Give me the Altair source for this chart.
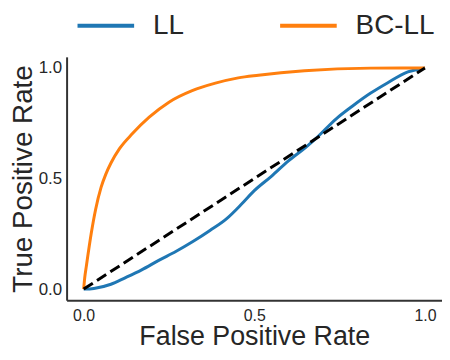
import altair as alt
import pandas as pd

# ROC curve readings
fpr_ll = [0, 0.03, 0.08, 0.12, 0.17, 0.22, 0.27, 0.32, 0.37, 0.42, 0.46, 0.50, 0.55, 0.60, 0.65, 0.68, 0.74, 0.79, 0.84, 0.89, 0.95, 1.0]
tpr_ll = [0, 0.003, 0.022, 0.05, 0.087, 0.13, 0.17, 0.215, 0.265, 0.32, 0.38, 0.445, 0.51, 0.58, 0.64, 0.68, 0.77, 0.83, 0.885, 0.932, 0.982, 1.0]

fpr_bc = [0, 0.003, 0.008, 0.022, 0.035, 0.051, 0.065, 0.08, 0.105, 0.143, 0.192, 0.25, 0.318, 0.386, 0.453, 0.512, 0.647, 0.841, 1.0]
tpr_bc = [0, 0.05, 0.105, 0.25, 0.36, 0.46, 0.52, 0.57, 0.635, 0.703, 0.777, 0.845, 0.897, 0.931, 0.955, 0.967, 0.987, 0.999, 1.0]

diag_x = [0, 1]
diag_y = [0, 1]

series_names = ["LL", "BC-LL"]
series_colors = ["#1f77b4", "#ff7f0e"]

rows = []
for i, (x, y) in enumerate(zip(fpr_ll, tpr_ll)):
    rows.append({"model": "LL", "fpr": x, "tpr": y, "order": i})
for i, (x, y) in enumerate(zip(fpr_bc, tpr_bc)):
    rows.append({"model": "BC-LL", "fpr": x, "tpr": y, "order": i})
df = pd.DataFrame(rows)
diag = pd.DataFrame({"fpr": diag_x, "tpr": diag_y})

FONT = "Liberation Sans"
TXT = "#262626"

xscale = alt.Scale(domain=[-0.05, 1.05], nice=False, zero=False)
yscale = alt.Scale(domain=[-0.05, 1.05], nice=False, zero=False)

xaxis = alt.Axis(
    title="False Positive Rate", values=[0, 0.5, 1.0], format=".1f",
    ticks=False, grid=False, labelFontSize=16, titleFontSize=27,
    labelPadding=7, titlePadding=1, labelColor=TXT, titleColor=TXT,
    titleFontWeight="normal", labelFont=FONT, titleFont=FONT,
    domainColor="#333333", domainWidth=2,
)
yaxis = alt.Axis(
    title="True Positive Rate", values=[0, 0.5, 1.0], format=".1f",
    ticks=False, grid=False, labelFontSize=17, titleFontSize=28,
    labelPadding=5, titlePadding=1, labelColor=TXT, titleColor=TXT,
    titleFontWeight="normal", labelFont=FONT, titleFont=FONT,
    domainColor="#333333", domainWidth=2,
)

lines = alt.Chart(df).mark_line(strokeWidth=3, interpolate="monotone").encode(
    x=alt.X("fpr:Q", scale=xscale, axis=xaxis),
    y=alt.Y("tpr:Q", scale=yscale, axis=yaxis),
    color=alt.Color(
        "model:N",
        scale=alt.Scale(domain=series_names, range=series_colors),
        legend=alt.Legend(
            title=None, orient="none", direction="horizontal",
            legendX=9, legendY=-62, padding=0,
            symbolType="stroke", symbolSize=3249, symbolStrokeWidth=4,
            labelFontSize=28, labelFont=FONT, labelColor=TXT,
            labelOffset=17, columnPadding=88,
        ),
    ),
    order="order:Q",
)

diag_line = alt.Chart(diag).mark_line(
    color="black", strokeWidth=3, strokeDash=[11, 5]
).encode(
    x=alt.X("fpr:Q", scale=xscale),
    y=alt.Y("tpr:Q", scale=yscale),
)

chart = alt.layer(lines, diag_line).properties(
    width=378, height=245,
    autosize=alt.AutoSizeParams(type="none"),
    padding={"left": 59, "top": 48, "right": 0, "bottom": 51},
    background="white",
).configure_view(stroke=None, strokeWidth=0)

chart.save("out.html", embed_options={"renderer": "svg", "actions": False})
